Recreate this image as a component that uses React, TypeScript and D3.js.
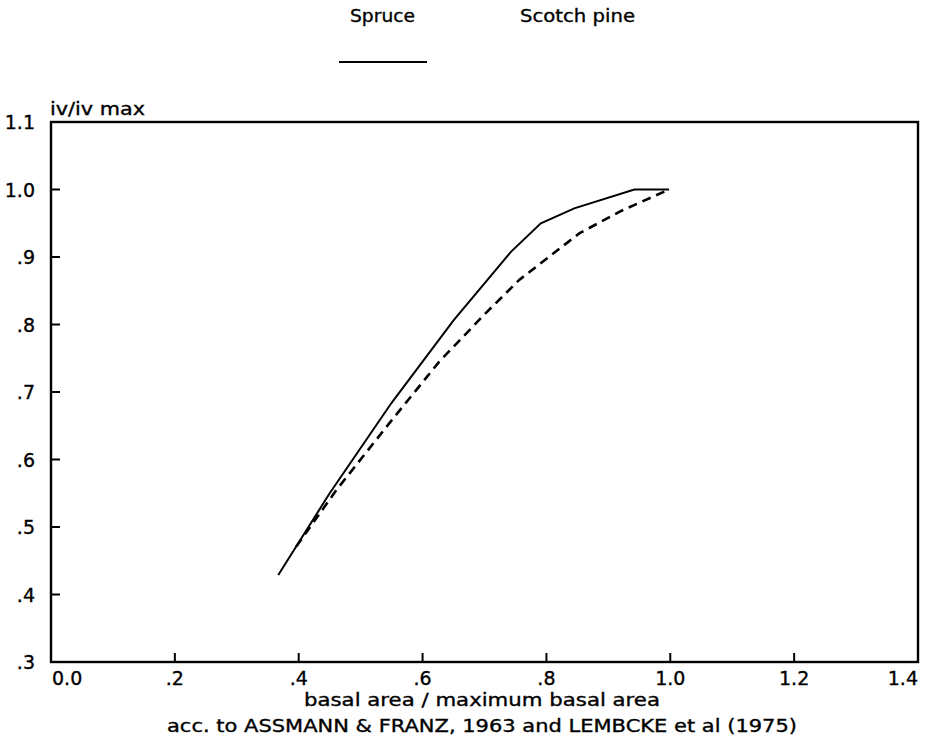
import React from "react";
import * as d3 from "d3";

const spruceX = [0.367, 0.45, 0.55, 0.65, 0.743, 0.791, 0.845, 0.942, 0.998];
const spruceY = [0.429, 0.55, 0.684, 0.806, 0.908, 0.95, 0.972, 1.0, 1.0];
const pineX = [0.396, 0.461, 0.55, 0.627, 0.7, 0.756, 0.853, 0.92, 0.998];
const pineY = [0.471, 0.555, 0.658, 0.745, 0.815, 0.866, 0.935, 0.968, 1.0];

const xTickValues = [0, 0.2, 0.4, 0.6, 0.8, 1.0, 1.2, 1.4];
const xTickLabels = ["0.0", ".2", ".4", ".6", ".8", "1.0", "1.2", "1.4"];
const yTickValues = [0.3, 0.4, 0.5, 0.6, 0.7, 0.8, 0.9, 1.0, 1.1];
const yTickLabels = [".3", ".4", ".5", ".6", ".7", ".8", ".9", "1.0", "1.1"];

const seriesNames = ["Spruce", "Scotch pine"];
const yTitle = "iv/iv max";
const xTitle = "basal area / maximum basal area";
const caption = "acc. to ASSMANN & FRANZ, 1963 and LEMBCKE et al (1975)";

const W = 929;
const H = 741;
const L = 51, R = 918, T = 122, B = 662;
const FONT = "'DejaVu Sans', sans-serif";

export default function App() {
  const x = d3.scaleLinear().domain([0, 1.4]).range([L, R]);
  const y = d3.scaleLinear().domain([0.3, 1.1]).range([B, T]);
  const line = d3
    .line<[number, number]>()
    .x((d) => x(d[0]))
    .y((d) => y(d[1]));
  const spruce = spruceX.map((v, i) => [v, spruceY[i]] as [number, number]);
  const pine = pineX.map((v, i) => [v, pineY[i]] as [number, number]);
  const tickLen = 9;
  const textStyle = { stroke: "#000", strokeWidth: 0.35 } as const;

  return (
    <svg
      width={W}
      height={H}
      style={{ position: "absolute", left: 0, top: 0, background: "#fff" }}
      fontFamily={FONT}
    >
      <rect x={0} y={0} width={W} height={H} fill="#fff" />
      <g style={textStyle}>
        {/* legend */}
        <text x={350} y={22} fontSize={18} textLength={65} lengthAdjust="spacingAndGlyphs">
          {seriesNames[0]}
        </text>
        <text x={520} y={22} fontSize={18} textLength={115} lengthAdjust="spacingAndGlyphs">
          {seriesNames[1]}
        </text>

        {/* x tick labels */}
        {xTickValues.map((v, i) => (
          <text
            key={"xl" + i}
            x={i === 0 ? x(v) + 1 : x(v)}
            y={685}
            fontSize={19}
            textAnchor={i === 0 ? "start" : i === xTickValues.length - 1 ? "end" : "middle"}
          >
            {xTickLabels[i]}
          </text>
        ))}

        {/* y tick labels */}
        {yTickValues.map((v, i) => (
          <text key={"yl" + i} x={35} y={y(v) + 7} fontSize={19} textAnchor="end">
            {yTickLabels[i]}
          </text>
        ))}

        <text x={50} y={115} fontSize={18} textLength={95} lengthAdjust="spacingAndGlyphs">
          {yTitle}
        </text>
        <text x={304} y={706} fontSize={18} textLength={356} lengthAdjust="spacingAndGlyphs">
          {xTitle}
        </text>
        <text x={167} y={732} fontSize={18} textLength={630} lengthAdjust="spacingAndGlyphs">
          {caption}
        </text>
      </g>

      <line x1={339} x2={427} y1={62} y2={62} stroke="#000" strokeWidth={2} />

      {/* frame */}
      <rect x={L} y={T} width={R - L} height={B - T} fill="none" stroke="#000" strokeWidth={2.4} />

      {/* x ticks */}
      {xTickValues.slice(1, -1).map((v, i) => (
        <line key={"xt" + i} x1={x(v)} x2={x(v)} y1={B} y2={B - tickLen} stroke="#000" strokeWidth={2} />
      ))}

      {/* y ticks */}
      {yTickValues.slice(1, -1).map((v, i) => (
        <line key={"yt" + i} x1={L} x2={L + tickLen} y1={y(v)} y2={y(v)} stroke="#000" strokeWidth={2} />
      ))}

      {/* curves */}
      <path d={line(spruce) || ""} fill="none" stroke="#000" strokeWidth={2} />
      <path
        d={line(pine) || ""}
        fill="none"
        stroke="#000"
        strokeWidth={2.6}
        strokeDasharray="9,6"
      />
    </svg>
  );
}
